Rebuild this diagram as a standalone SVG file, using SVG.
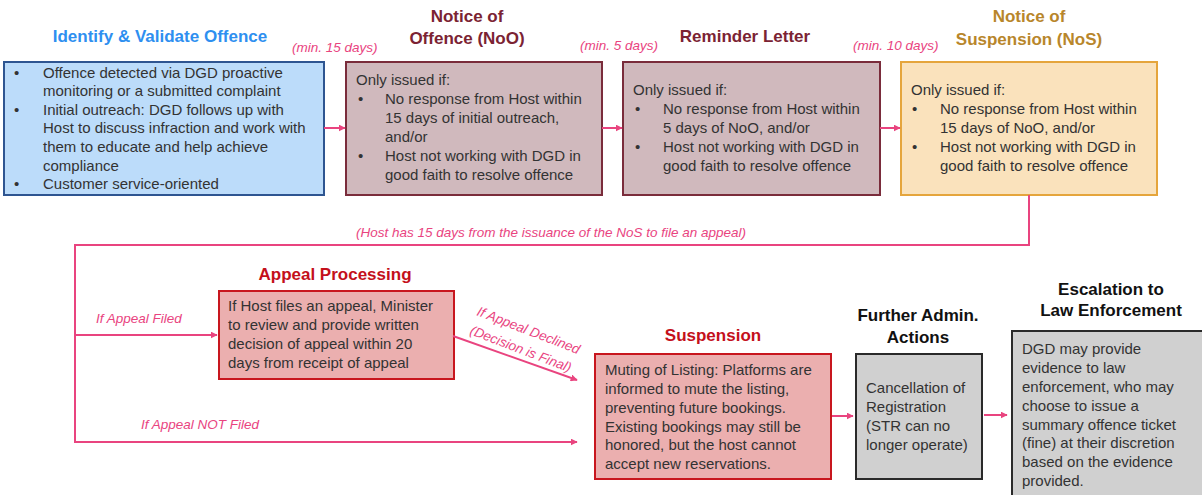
<svg xmlns="http://www.w3.org/2000/svg" width="1202" height="495" viewBox="0 0 1202 495">
<defs>
<marker id="ah" viewBox="0 0 10 10" refX="9" refY="5" markerWidth="7" markerHeight="7" markerUnits="userSpaceOnUse" orient="auto">
<path d="M0,0 L10,5 L0,10 Z" fill="#e9447f"/>
</marker>
<style>
.t{font-family:"Liberation Sans",Arial,sans-serif;font-size:15px;fill:#333333}
.h{font-family:"Liberation Sans",Arial,sans-serif;font-size:17px;font-weight:bold;text-anchor:middle}
.lbl{font-family:"Liberation Sans",Arial,sans-serif;font-size:13.5px;font-style:italic;fill:#e9447f}
.c{fill:none;stroke:#e9447f;stroke-width:2}
</style>
</defs>
<rect width="1202" height="495" fill="#ffffff"/>

<g id="identify">
<text class="h" x="160" y="42" fill="#2e8ff0">Identify &amp; Validate Offence</text>
<rect x="4" y="62" width="320" height="133" fill="#bcdcfa" stroke="#2e5591" stroke-width="2"/>
<text class="t"><tspan x="14" y="78">•</tspan><tspan x="43" y="78">Offence detected via DGD proactive</tspan>
<tspan x="43" y="96">monitoring or a submitted complaint</tspan>
<tspan x="14" y="115">•</tspan><tspan x="43" y="115">Initial outreach: DGD follows up with</tspan>
<tspan x="43" y="133">Host to discuss infraction and work with</tspan>
<tspan x="43" y="152">them to educate and help achieve</tspan>
<tspan x="43" y="171">compliance</tspan>
<tspan x="14" y="189">•</tspan><tspan x="43" y="189">Customer service-oriented</tspan></text>
</g>

<g id="noo">
<text class="h" fill="#7b2333"><tspan x="467" y="22">Notice of</tspan><tspan x="467" y="44">Offence (NoO)</tspan></text>
<rect x="346" y="62" width="256" height="133" fill="#d0b9bd" stroke="#7a2c3b" stroke-width="2"/>
<text class="t"><tspan x="356" y="85">Only issued if:</tspan>
<tspan x="358" y="104">•</tspan><tspan x="385" y="104">No response from Host within</tspan>
<tspan x="385" y="123">15 days of initial outreach,</tspan>
<tspan x="385" y="142">and/or</tspan>
<tspan x="358" y="161">•</tspan><tspan x="385" y="161">Host not working with DGD in</tspan>
<tspan x="385" y="180">good faith to resolve offence</tspan></text>
</g>

<g id="reminder">
<text class="h" x="745" y="42" fill="#7b2333">Reminder Letter</text>
<rect x="623" y="62" width="257" height="133" fill="#d0b9bd" stroke="#7a2c3b" stroke-width="2"/>
<text class="t"><tspan x="633" y="95">Only issued if:</tspan>
<tspan x="635" y="114">•</tspan><tspan x="663" y="114">No response from Host within</tspan>
<tspan x="663" y="133">5 days of NoO, and/or</tspan>
<tspan x="635" y="152">•</tspan><tspan x="663" y="152">Host not working with DGD in</tspan>
<tspan x="663" y="171">good faith to resolve offence</tspan></text>
</g>

<g id="nos">
<text class="h" fill="#b8862b"><tspan x="1029" y="22">Notice of</tspan><tspan x="1029" y="45">Suspension (NoS)</tspan></text>
<rect x="901" y="62" width="256" height="133" fill="#fae2bc" stroke="#e5a53c" stroke-width="2"/>
<text class="t"><tspan x="911" y="95">Only issued if:</tspan>
<tspan x="912" y="114">•</tspan><tspan x="940" y="114">No response from Host within</tspan>
<tspan x="940" y="133">15 days of NoO, and/or</tspan>
<tspan x="912" y="152">•</tspan><tspan x="940" y="152">Host not working with DGD in</tspan>
<tspan x="940" y="171">good faith to resolve offence</tspan></text>
</g>

<g id="appeal">
<text class="h" x="335" y="280" fill="#c4101b">Appeal Processing</text>
<rect x="219" y="291" width="235" height="88" fill="#ebafaf" stroke="#c8161e" stroke-width="2"/>
<text class="t"><tspan x="228" y="311">If Host files an appeal, Minister</tspan>
<tspan x="228" y="330">to review and provide written</tspan>
<tspan x="228" y="349">decision of appeal within 20</tspan>
<tspan x="228" y="368">days from receipt of appeal</tspan></text>
</g>

<g id="suspension">
<text class="h" x="713" y="341" fill="#c4101b">Suspension</text>
<rect x="595" y="354" width="236" height="125" fill="#ebafaf" stroke="#c8161e" stroke-width="2"/>
<text class="t"><tspan x="605" y="375">Muting of Listing: Platforms are</tspan>
<tspan x="605" y="394">informed to mute the listing,</tspan>
<tspan x="605" y="413">preventing future bookings.</tspan>
<tspan x="605" y="432">Existing bookings may still be</tspan>
<tspan x="605" y="450">honored, but the host cannot</tspan>
<tspan x="605" y="469">accept new reservations.</tspan></text>
</g>

<g id="further">
<text class="h" fill="#111111"><tspan x="918" y="321">Further Admin.</tspan><tspan x="918" y="343">Actions</tspan></text>
<rect x="856" y="354" width="126" height="125" fill="#d0d0d0" stroke="#2a2a2a" stroke-width="2"/>
<text class="t"><tspan x="866" y="393">Cancellation of</tspan>
<tspan x="866" y="412">Registration</tspan>
<tspan x="866" y="431">(STR can no</tspan>
<tspan x="866" y="450">longer operate)</tspan></text>
</g>

<g id="escalation">
<text class="h" fill="#111111"><tspan x="1111" y="295">Escalation to</tspan><tspan x="1111" y="316">Law Enforcement</tspan></text>
<rect x="1012" y="331" width="200" height="180" fill="#d0d0d0" stroke="#2a2a2a" stroke-width="2"/>
<text class="t"><tspan x="1022" y="354">DGD may provide</tspan>
<tspan x="1022" y="373">evidence to law</tspan>
<tspan x="1022" y="392">enforcement, who may</tspan>
<tspan x="1022" y="411">choose to issue a</tspan>
<tspan x="1022" y="430">summary offence ticket</tspan>
<tspan x="1022" y="448">(fine) at their discretion</tspan>
<tspan x="1022" y="467">based on the evidence</tspan>
<tspan x="1022" y="486">provided.</tspan></text>
</g>

<g id="connectors">
<line class="c" x1="324" y1="128" x2="345" y2="128" marker-end="url(#ah)"/>
<line class="c" x1="602" y1="128" x2="622" y2="128" marker-end="url(#ah)"/>
<line class="c" x1="880" y1="128" x2="900" y2="128" marker-end="url(#ah)"/>
<polyline class="c" points="1029,195 1029,245 75,245 75,442 577,442" marker-end="url(#ah)"/>
<line class="c" x1="75" y1="335" x2="217" y2="335" marker-end="url(#ah)"/>
<line class="c" x1="453" y1="336" x2="577" y2="380" marker-end="url(#ah)"/>
<line class="c" x1="832" y1="416" x2="853" y2="416" marker-end="url(#ah)"/>
<line class="c" x1="984" y1="415" x2="1007" y2="415" marker-end="url(#ah)"/>
<text class="lbl" x="292" y="52">(min. 15 days)</text>
<text class="lbl" x="580" y="50">(min. 5 days)</text>
<text class="lbl" x="853" y="50">(min. 10 days)</text>
<text class="lbl" x="551" y="237" text-anchor="middle">(Host has 15 days from the issuance of the NoS to file an appeal)</text>
<text class="lbl" x="96" y="323">If Appeal Filed</text>
<text class="lbl" x="141" y="429">If Appeal NOT Filed</text>
<text class="lbl" transform="translate(476,315) rotate(21)">If Appeal Declined</text>
<text class="lbl" transform="translate(469,334) rotate(21)">(Decision is Final)</text>
</g>
</svg>
